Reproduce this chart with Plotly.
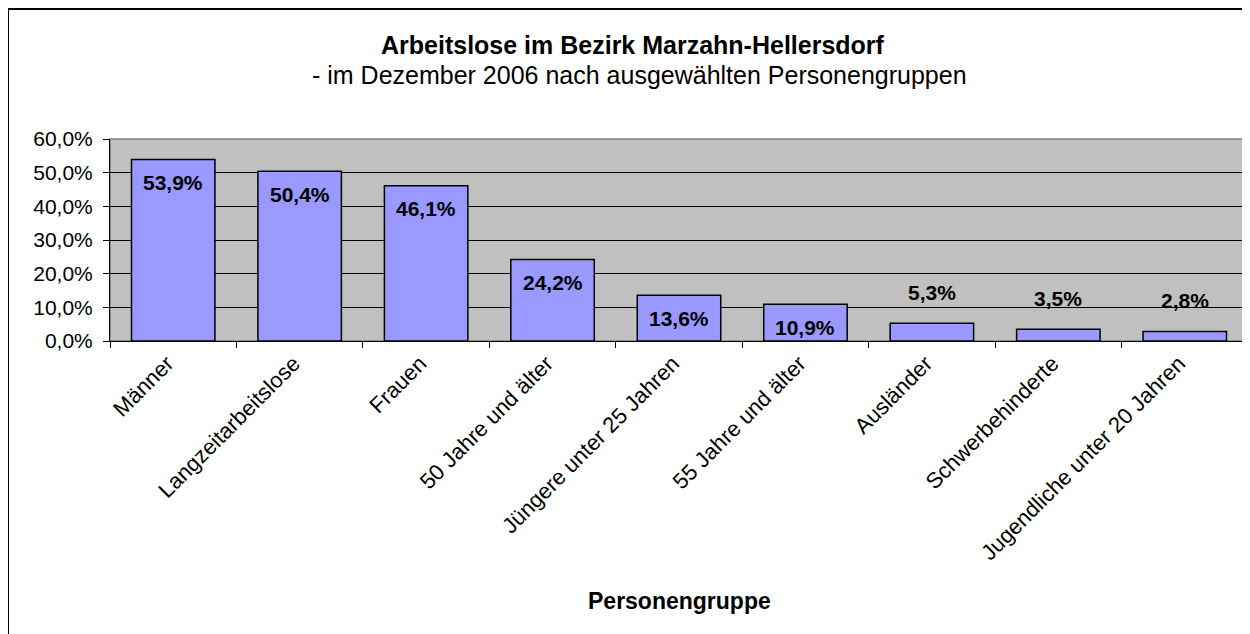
import plotly.graph_objects as go

# Data
categories = [
    'Männer', 'Langzeitarbeitslose', 'Frauen', '50 Jahre und älter',
    'Jüngere unter 25 Jahren', '55 Jahre und älter', 'Ausländer',
    'Schwerbehinderte', 'Jugendliche unter 20 Jahren'
]
values = [53.9, 50.4, 46.1, 24.2, 13.6, 10.9, 5.3, 3.5, 2.8]
y_ticks = [0, 10, 20, 30, 40, 50, 60]

FONT = 'Liberation Sans, Arial, sans-serif'

fig = go.Figure()

fig.add_trace(go.Bar(
    x=categories,
    y=values,
    marker=dict(color='#9999FF', line=dict(color='black', width=1.5)),
    width=0.66,
    hoverinfo='x+y',
    showlegend=False
))

# Data labels: inside the bar top for large values, above for small ones
for cat, val in zip(categories, values):
    label = f'{val:.1f}%'.replace('.', ',')
    fig.add_annotation(
        x=cat, y=val, text=f'<b>{label}</b>',
        showarrow=False, xref='x', yref='y',
        yanchor='middle',
        yshift=-23 if val >= 10 else 31,
        font=dict(family=FONT, size=21, color='black')
    )

# Title lines
fig.add_annotation(
    text='<b>Arbeitslose im Bezirk Marzahn-Hellersdorf</b>',
    xref='paper', yref='paper', x=0.46, y=(341 - 45) / 202,
    showarrow=False, yanchor='middle',
    font=dict(family=FONT, size=25, color='black')
)
fig.add_annotation(
    text='- im Dezember 2006 nach ausgewählten Personengruppen',
    xref='paper', yref='paper', x=0.465, y=(341 - 75) / 202,
    showarrow=False, yanchor='middle',
    font=dict(family=FONT, size=25, color='black')
)

# Axis title
fig.add_annotation(
    text='<b>Personengruppe</b>',
    xref='paper', yref='paper', x=0.5, y=(341 - 601) / 202,
    showarrow=False, yanchor='middle',
    font=dict(family=FONT, size=23, color='black')
)

# Outer chart border (runs off the right and bottom edge of the image)
fig.add_shape(
    type='rect', xref='paper', yref='paper',
    x0=(8 - 110) / 1138, x1=(1270 - 110) / 1138,
    y0=(341 - 660) / 202, y1=(341 - 9) / 202,
    line=dict(color='black', width=2), layer='below'
)

fig.update_layout(
    width=1250,
    height=634,
    margin=dict(l=102, r=10, t=131, b=301),
    paper_bgcolor='white',
    plot_bgcolor='#C0C0C0',
    font=dict(family=FONT, color='black'),
    xaxis=dict(
        type='category',
        automargin=False,
        tickangle=-45,
        tickson='boundaries',
        ticks='outside',
        ticklen=6,
        tickcolor='black',
        ticklabelshift=-6,
        showline=True,
        linecolor='black',
        linewidth=1,
        showgrid=False,
        tickfont=dict(family=FONT, size=22, color='black')
    ),
    yaxis=dict(
        automargin=False,
        range=[0, 60],
        tickvals=y_ticks,
        ticktext=[f'{v:.1f}%'.replace('.', ',') for v in y_ticks],
        ticks='outside',
        ticklen=6,
        tickcolor='black',
        ticklabelstandoff=6,
        showline=True,
        linecolor='black',
        linewidth=1,
        showgrid=True,
        gridcolor='black',
        gridwidth=1,
        zeroline=False,
        tickfont=dict(family=FONT, size=21, color='black')
    )
)

# Gray frame on top and right of the plot area
fig.add_shape(
    type='rect', xref='paper', yref='paper', x0=0, x1=1, y0=0, y1=1,
    line=dict(color='#808080', width=1.5), layer='below'
)

fig.write_html('out.html')
